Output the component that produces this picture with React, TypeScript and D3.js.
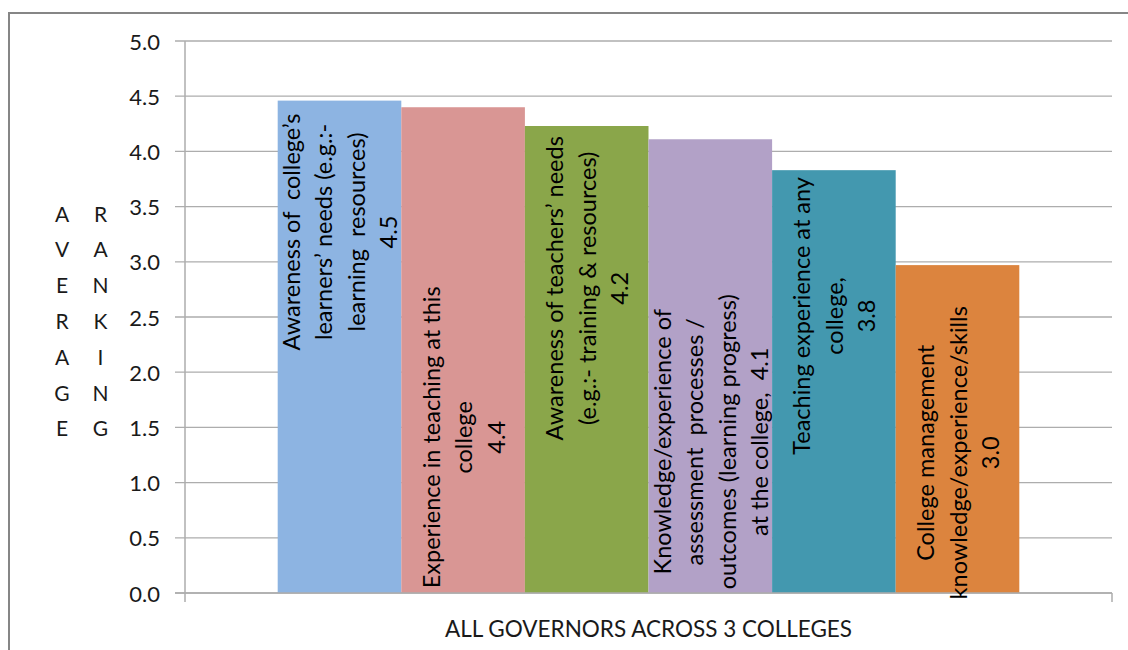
import React from "react";
import * as d3 from "d3";

const category = "ALL GOVERNORS ACROSS 3 COLLEGES";
const seriesNames = [
  "Awareness of college’s learners’ needs",
  "Experience in teaching at this college",
  "Awareness of teachers’ needs",
  "Knowledge/experience of assessment processes",
  "Teaching experience at any college",
  "College management knowledge/experience/skills",
];
const values = [4.46, 4.4, 4.23, 4.11, 3.83, 2.97];
const labelLines = [
  ["Awareness of  college’s", "learners’ needs (e.g.:-", "learning  resources)", "4.5"],
  ["Experience in teaching at this", "college", "4.4"],
  ["Awareness of teachers’ needs", "(e.g.:- training & resources)", "4.2"],
  ["Knowledge/experience of", "assessment  processes /", "outcomes (learning progress)", "at the college,  4.1"],
  ["Teaching experience at any", "college,", "3.8"],
  ["College management", "knowledge/experience/skills", "3.0"],
];
// label centre, in axis units (where Excel placed each label)
const labelAnchor = [3.27, 1.41, 2.76, 1.37, 2.51, 1.27];
const yTicks = [0, 0.5, 1, 1.5, 2, 2.5, 3, 3.5, 4, 4.5, 5];
const yTitleWords = ["AVERAGE", "RANKING"];
const colors = ["#8DB4E2", "#D99694", "#8AA64A", "#B2A1C7", "#4398AF", "#DC843E"];

const W = 1128;
const H = 650;
const FONT = "Lato, 'Open Sans', sans-serif";

export default function App() {
  const left = 185;
  const right = 1112;
  const top = 41;
  const bottom = 593;
  const y = d3.scaleLinear().domain([0, 5]).range([bottom, top]);
  const x0 = d3.scaleBand<string>().domain([category]).range([left, right]);
  const x1 = d3
    .scaleBand<string>()
    .domain(seriesNames)
    .range([x0(category)!, x0(category)! + x0.bandwidth()])
    .paddingInner(0)
    .paddingOuter(0.75);
  const lineGap = 32.5;
  const gridColor = "#ADADAD";

  return (
    <svg
      width={W}
      height={H}
      style={{ position: "absolute", left: 0, top: 0, background: "#fff" }}
      fontFamily={FONT}
    >
      <rect x={0} y={0} width={W} height={H} fill="#fff" />
      <rect x={9} y={13} width={W + 20} height={H + 20} fill="none" stroke="#868686" strokeWidth={2} />
      {/* gridlines */}
      {yTicks.map((t) => (
        <line key={"g" + t} x1={left - 10} x2={right} y1={y(t)} y2={y(t)} stroke={gridColor} strokeWidth={1.3} />
      ))}
      {/* bars */}
      {seriesNames.map((s, i) => (
        <rect
          key={s}
          x={x1(s)}
          y={y(values[i])}
          width={x1.bandwidth()}
          height={y(0) - y(values[i])}
          fill={colors[i]}
        />
      ))}
      {/* axes */}
      <line x1={left} x2={left} y1={top} y2={bottom + 9} stroke={gridColor} strokeWidth={1.5} />
      <line x1={left - 10} x2={right} y1={bottom} y2={bottom} stroke={gridColor} strokeWidth={1.5} />
      <line x1={right} x2={right} y1={bottom} y2={bottom + 9} stroke={gridColor} strokeWidth={1.5} />
      {/* tick labels */}
      {yTicks.map((t) => (
        <text
          key={"t" + t}
          x={160}
          y={y(t)}
          textAnchor="end"
          dominantBaseline="central"
          fontSize={22}
          fill="#1a1a1a"
        >
          {d3.format(".1f")(t)}
        </text>
      ))}
      {/* y title: stacked letters */}
      {yTitleWords.map((w, wi) =>
        w.split("").map((ch, ci) => (
          <text
            key={w + ci}
            x={62 + wi * 38.5}
            y={213 + ci * 35.8}
            textAnchor="middle"
            dominantBaseline="central"
            fontSize={21}
            fill="#1a1a1a"
          >
            {ch}
          </text>
        ))
      )}
      {/* bar labels */}
      {seriesNames.map((s, i) => {
        const cx = x1(s)! + x1.bandwidth() / 2;
        const cy = y(labelAnchor[i]);
        const lines = labelLines[i];
        return (
          <g key={"l" + s} transform={`translate(${cx},${cy}) rotate(-90)`}>
            {lines.map((ln, li) => (
              <text
                key={li}
                x={0}
                y={(li - (lines.length - 1) / 2) * lineGap}
                textAnchor="middle"
                dominantBaseline="central"
                fontSize={23.5}
                fill="#000"
                style={{ whiteSpace: "pre" }}
              >
                {ln}
              </text>
            ))}
          </g>
        );
      })}
      {/* x category label */}
      <text x={(left + right) / 2} y={628} textAnchor="middle" dominantBaseline="central" fontSize={22.5} fill="#1a1a1a">
        {category}
      </text>
    </svg>
  );
}
